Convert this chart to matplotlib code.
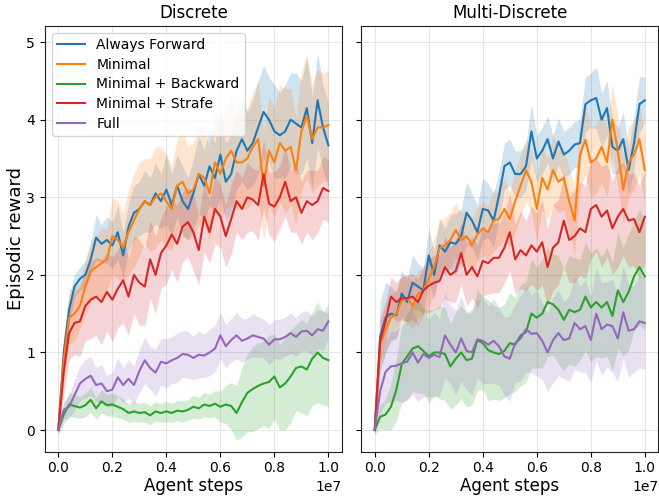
import numpy as np
import matplotlib
matplotlib.use('Agg')
import matplotlib.pyplot as plt

# 横轴：训练步数（每 2e5 步一个点）
steps = np.arange(51) * 2e5

names = ['Always Forward', 'Minimal', 'Minimal + Backward', 'Minimal + Strafe', 'Full']
colors = ['tab:blue', 'tab:orange', 'tab:green', 'tab:red', 'tab:purple']

# ---------------- Discrete ----------------
d_fwd = [0.0, 1.0, 1.55, 1.85, 1.95, 2.0, 2.2, 2.48, 2.4, 2.45, 2.38, 2.55, 2.25, 2.62, 2.8, 2.85, 2.95,
         2.9, 3.05, 2.95, 3.1, 2.9, 3.15, 2.95, 2.85, 3.05, 3.3, 3.15, 3.4, 3.25, 3.55, 3.2, 3.3, 3.6,
         3.75, 3.6, 3.7, 3.9, 4.1, 4.0, 3.85, 3.8, 3.85, 4.0, 3.95, 3.9, 4.15, 3.7, 4.25, 3.9, 3.67]
d_fwd_sd = [0.05, 0.2, 0.2, 0.15, 0.15, 0.18, 0.2, 0.3, 0.25, 0.3, 0.3, 0.35, 0.3, 0.3, 0.35, 0.35, 0.4,
            0.35, 0.4, 0.35, 0.45, 0.4, 0.4, 0.45, 0.4, 0.45, 0.5, 0.45, 0.5, 0.45, 0.55, 0.5, 0.5, 0.5,
            0.55, 0.5, 0.55, 0.6, 0.6, 0.55, 0.6, 0.55, 0.6, 0.6, 0.65, 0.6, 0.65, 0.6, 0.6, 0.55, 0.55]

d_min = [0.0, 0.9, 1.45, 1.5, 1.6, 1.85, 2.05, 2.1, 2.15, 2.2, 2.5, 2.45, 2.35, 2.55, 2.7, 2.85, 2.95,
         2.9, 3.0, 3.05, 2.95, 2.85, 3.15, 3.2, 3.05, 3.1, 3.3, 3.25, 3.05, 3.45, 3.3, 3.5, 3.6, 3.45,
         3.45, 3.5, 3.65, 3.75, 3.15, 3.6, 3.45, 3.7, 3.6, 3.65, 3.35, 3.85, 4.05, 3.75, 3.9, 3.9, 3.93]
d_min_sd = [0.05, 0.3, 0.35, 0.35, 0.3, 0.35, 0.4, 0.4, 0.45, 0.4, 0.5, 0.5, 0.45, 0.55, 0.6, 0.6, 0.55,
            0.6, 0.65, 0.6, 0.6, 0.55, 0.6, 0.65, 0.6, 0.6, 0.65, 0.6, 0.6, 0.65, 0.6, 0.65, 0.7, 0.6,
            0.6, 0.65, 0.7, 0.75, 0.7, 0.7, 0.7, 0.75, 0.8, 0.75, 0.7, 0.75, 0.8, 0.7, 0.75, 0.7, 0.7]

d_back = [0.0, 0.2, 0.33, 0.31, 0.29, 0.32, 0.39, 0.28, 0.37, 0.32, 0.33, 0.3, 0.27, 0.22, 0.24, 0.22, 0.23,
          0.19, 0.24, 0.22, 0.24, 0.22, 0.25, 0.24, 0.26, 0.3, 0.28, 0.33, 0.31, 0.34, 0.3, 0.33, 0.31, 0.22,
          0.36, 0.48, 0.53, 0.57, 0.6, 0.62, 0.69, 0.55, 0.6, 0.69, 0.8, 0.82, 0.78, 0.92, 1.0, 0.93, 0.9]
d_back_sd = [0.05, 0.12, 0.15, 0.15, 0.14, 0.15, 0.16, 0.14, 0.15, 0.14, 0.15, 0.14, 0.13, 0.12, 0.13, 0.12, 0.13,
             0.12, 0.13, 0.12, 0.13, 0.12, 0.13, 0.14, 0.13, 0.15, 0.14, 0.16, 0.15, 0.17, 0.2, 0.25, 0.3, 0.35,
             0.45, 0.5, 0.55, 0.55, 0.55, 0.6, 0.55, 0.55, 0.6, 0.6, 0.55, 0.6, 0.6, 0.6, 0.65, 0.6, 0.6]

d_strafe = [0.0, 0.75, 1.25, 1.38, 1.4, 1.6, 1.68, 1.72, 1.65, 1.78, 1.68, 1.82, 1.93, 1.72, 2.0, 1.9, 1.85,
            2.2, 2.0, 2.28, 2.38, 2.52, 2.4, 2.62, 2.68, 2.55, 2.32, 2.75, 2.55, 2.85, 2.75, 2.5, 2.72, 2.95,
            2.85, 3.0, 2.97, 2.9, 3.3, 2.92, 2.88, 3.0, 3.2, 2.95, 3.0, 2.8, 2.95, 2.9, 2.95, 3.12, 3.08]
d_strafe_sd = [0.05, 0.3, 0.35, 0.4, 0.45, 0.45, 0.5, 0.5, 0.55, 0.5, 0.55, 0.5, 0.55, 0.5, 0.5, 0.55, 0.5,
               0.5, 0.5, 0.45, 0.5, 0.45, 0.5, 0.45, 0.45, 0.5, 0.45, 0.45, 0.4, 0.45, 0.4, 0.4, 0.45, 0.4,
               0.4, 0.45, 0.4, 0.45, 0.45, 0.4, 0.45, 0.4, 0.45, 0.4, 0.45, 0.4, 0.4, 0.45, 0.4, 0.4, 0.4]

d_full = [0.0, 0.26, 0.3, 0.45, 0.6, 0.66, 0.7, 0.58, 0.6, 0.5, 0.52, 0.68, 0.58, 0.66, 0.58, 0.76, 0.9,
          0.8, 0.74, 0.88, 0.86, 0.9, 0.93, 0.98, 0.97, 0.93, 0.97, 0.96, 1.0, 1.05, 1.22, 1.08, 1.16, 1.22,
          1.15, 1.18, 1.22, 1.2, 1.18, 1.1, 1.17, 1.17, 1.2, 1.25, 1.2, 1.27, 1.28, 1.22, 1.3, 1.28, 1.4]
d_full_sd = [0.05, 0.12, 0.15, 0.2, 0.22, 0.25, 0.25, 0.22, 0.25, 0.2, 0.22, 0.25, 0.22, 0.25, 0.25, 0.28, 0.3,
             0.28, 0.3, 0.3, 0.32, 0.3, 0.32, 0.3, 0.3, 0.28, 0.3, 0.28, 0.3, 0.3, 0.3, 0.28, 0.28, 0.3,
             0.28, 0.26, 0.28, 0.26, 0.25, 0.26, 0.25, 0.26, 0.25, 0.26, 0.25, 0.25, 0.26, 0.25, 0.25, 0.25, 0.22]

# ---------------- Multi-Discrete ----------------
m_fwd = [0.0, 1.2, 1.45, 1.5, 1.48, 1.76, 1.65, 1.9, 1.85, 1.8, 2.25, 2.0, 2.38, 2.3, 2.42, 2.4, 2.5,
         2.8, 2.7, 2.55, 2.85, 2.83, 2.7, 3.02, 3.4, 3.45, 3.3, 3.3, 3.4, 3.85, 3.5, 3.6, 3.75, 3.5,
         3.72, 3.55, 3.6, 3.68, 3.7, 4.2, 4.25, 4.28, 4.0, 4.15, 3.65, 3.6, 3.75, 3.35, 3.7, 4.2, 4.25]
m_fwd_sd = [0.05, 0.45, 0.45, 0.35, 0.3, 0.3, 0.3, 0.35, 0.3, 0.3, 0.35, 0.3, 0.35, 0.3, 0.35, 0.4, 0.35,
            0.4, 0.35, 0.35, 0.4, 0.35, 0.35, 0.3, 0.3, 0.3, 0.3, 0.3, 0.3, 0.35, 0.3, 0.3, 0.3, 0.3,
            0.3, 0.3, 0.3, 0.3, 0.3, 0.35, 0.35, 0.4, 0.35, 0.35, 0.35, 0.3, 0.35, 0.3, 0.35, 0.35, 0.3]

m_min = [0.0, 1.1, 1.3, 1.45, 1.5, 1.67, 1.7, 1.6, 1.75, 1.8, 1.95, 2.1, 2.35, 2.38, 2.45, 2.58, 2.45,
         2.5, 2.38, 2.52, 2.6, 2.55, 2.7, 2.72, 2.85, 2.72, 2.95, 3.15, 3.35, 3.2, 2.85, 3.25, 3.1, 3.35,
         3.2, 3.25, 2.95, 2.7, 3.55, 3.74, 3.45, 3.5, 3.65, 3.45, 4.0, 3.6, 3.1, 3.45, 3.55, 3.75, 3.35]
m_min_sd = [0.05, 0.3, 0.3, 0.3, 0.3, 0.3, 0.3, 0.3, 0.3, 0.3, 0.35, 0.35, 0.35, 0.35, 0.35, 0.35, 0.35,
            0.35, 0.35, 0.35, 0.35, 0.35, 0.4, 0.35, 0.4, 0.35, 0.4, 0.4, 0.4, 0.4, 0.4, 0.4, 0.4, 0.45,
            0.4, 0.4, 0.4, 0.45, 0.45, 0.45, 0.45, 0.45, 0.45, 0.45, 0.45, 0.45, 0.45, 0.45, 0.45, 0.45, 0.45]

m_back = [0.0, 0.17, 0.2, 0.3, 0.52, 0.85, 0.95, 1.05, 1.08, 1.02, 0.95, 1.0, 1.0, 0.98, 0.82, 0.92, 1.0,
          0.9, 0.92, 1.16, 1.12, 1.03, 1.0, 0.98, 1.02, 1.12, 1.1, 1.22, 1.26, 1.5, 1.45, 1.5, 1.65, 1.62,
          1.55, 1.42, 1.55, 1.52, 1.55, 1.72, 1.58, 1.65, 1.58, 1.65, 1.47, 1.8, 1.65, 1.78, 1.98, 2.1, 1.98]
m_back_sd = [0.05, 0.15, 0.2, 0.3, 0.4, 0.5, 0.55, 0.55, 0.6, 0.55, 0.6, 0.55, 0.6, 0.6, 0.55, 0.6, 0.6,
             0.6, 0.6, 0.65, 0.6, 0.65, 0.6, 0.6, 0.6, 0.65, 0.6, 0.65, 0.65, 0.7, 0.65, 0.7, 0.7, 0.65,
             0.7, 0.65, 0.7, 0.7, 0.65, 0.7, 0.7, 0.7, 0.65, 0.7, 0.7, 0.75, 0.7, 0.75, 0.7, 0.75, 0.7]

m_strafe = [0.0, 1.15, 1.4, 1.72, 1.65, 1.7, 1.7, 1.72, 1.65, 1.8, 1.86, 1.9, 1.92, 2.1, 2.0, 2.05, 2.28,
            2.0, 2.1, 1.98, 2.18, 2.15, 2.22, 2.22, 2.35, 2.55, 2.2, 2.32, 2.25, 2.38, 2.3, 2.42, 2.1, 2.35,
            2.42, 2.7, 2.45, 2.5, 2.6, 2.55, 2.85, 2.9, 2.75, 2.83, 2.6, 2.75, 2.85, 2.7, 2.72, 2.55, 2.75]
m_strafe_sd = [0.05, 0.3, 0.25, 0.25, 0.25, 0.28, 0.3, 0.3, 0.3, 0.3, 0.35, 0.35, 0.35, 0.4, 0.35, 0.4, 0.4,
               0.4, 0.4, 0.4, 0.45, 0.4, 0.45, 0.45, 0.45, 0.5, 0.45, 0.5, 0.45, 0.5, 0.5, 0.55, 0.5, 0.55,
               0.55, 0.6, 0.55, 0.6, 0.6, 0.6, 0.65, 0.6, 0.65, 0.6, 0.6, 0.65, 0.6, 0.6, 0.6, 0.6, 0.6]

m_full = [0.0, 0.5, 0.75, 0.82, 0.83, 0.86, 0.88, 1.0, 0.87, 0.98, 0.93, 0.97, 0.94, 1.22, 1.1, 1.0, 1.18,
          1.02, 1.0, 1.17, 1.15, 1.1, 1.15, 1.08, 0.95, 0.92, 1.12, 1.18, 1.3, 1.24, 1.25, 1.15, 1.0, 1.16,
          1.25, 1.16, 1.18, 1.38, 1.3, 1.34, 1.16, 1.5, 1.3, 1.36, 1.34, 1.18, 1.52, 1.28, 1.3, 1.4, 1.38]
m_full_sd = [0.05, 0.3, 0.4, 0.45, 0.45, 0.5, 0.5, 0.55, 0.5, 0.55, 0.5, 0.55, 0.5, 0.55, 0.5, 0.55, 0.55,
             0.5, 0.55, 0.5, 0.55, 0.5, 0.55, 0.5, 0.5, 0.55, 0.5, 0.55, 0.55, 0.5, 0.55, 0.5, 0.5, 0.55,
             0.55, 0.5, 0.55, 0.6, 0.55, 0.6, 0.55, 0.6, 0.6, 0.55, 0.6, 0.55, 0.6, 0.6, 0.55, 0.6, 0.6]

discrete = [(d_fwd, d_fwd_sd), (d_min, d_min_sd), (d_back, d_back_sd), (d_strafe, d_strafe_sd), (d_full, d_full_sd)]
multi = [(m_fwd, m_fwd_sd), (m_min, m_min_sd), (m_back, m_back_sd), (m_strafe, m_strafe_sd), (m_full, m_full_sd)]

fig, axes = plt.subplots(1, 2, figsize=(6.59, 4.97), dpi=100, sharey=True)

for ax, runs, title in zip(axes, [discrete, multi], ['Discrete', 'Multi-Discrete']):
    for (mean, sd), name, c in zip(runs, names, colors):
        mean = np.array(mean)
        sd = np.array(sd)
        ax.plot(steps, mean, color=c, lw=1.5, label=name)
        ax.fill_between(steps, mean - sd, mean + sd, color=c, alpha=0.2, lw=0)
    ax.set_title(title, fontsize=12)
    ax.set_xlabel('Agent steps', fontsize=12, labelpad=1)
    ax.grid(True, color='#e6e6e6', lw=0.8)
    ax.set_axisbelow(True)
    ax.set_ylim(-0.28, 5.21)
    ax.set_yticks([0, 1, 2, 3, 4, 5])
    ax.tick_params(labelsize=10)
    for s in ax.spines.values():
        s.set_color('#222222')

axes[0].set_ylabel('Episodic reward', fontsize=13, labelpad=1)
axes[0].legend(loc='upper left', fontsize=10, labelspacing=0.4)

plt.subplots_adjust(left=0.068, right=0.999, bottom=0.091, top=0.948, wspace=0.065)
plt.savefig('out.png', dpi=100)
